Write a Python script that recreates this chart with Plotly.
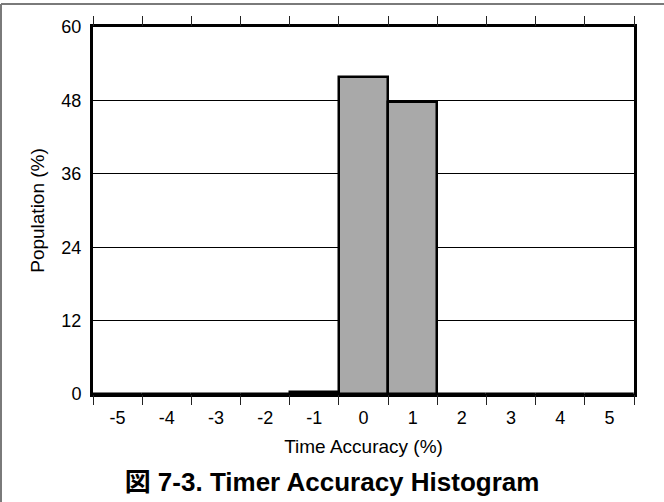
import plotly.graph_objects as go

# Histogram bins (time accuracy, %) and population share in each bin (%)
bins = [-5, -4, -3, -2, -1, 0, 1, 2, 3, 4, 5]
population = [0, 0, 0, 0, 0.4, 51.8, 47.8, 0, 0, 0, 0]
y_ticks = [0, 12, 24, 36, 48, 60]
bin_edges = [b - 0.5 for b in bins] + [bins[-1] + 0.5]

FONT = "Liberation Sans, Arial, Noto Sans CJK JP, sans-serif"
W, H = 664, 502
L, R, T, B = 93, 30, 27, 108

fig = go.Figure()
fig.add_trace(go.Bar(
    x=bins, y=population, width=1,
    marker=dict(color="#a9a9a9", line=dict(color="black", width=2.5)),
    hoverinfo="x+y",
))
# empty traces so the tick-only overlay axes are rendered
fig.add_trace(go.Scatter(x=[bin_edges[0]], y=[0], xaxis="x2", mode="markers",
                         marker=dict(opacity=0), showlegend=False, hoverinfo="skip"))
fig.add_trace(go.Scatter(x=[bin_edges[0]], y=[0], xaxis="x3", mode="markers",
                         marker=dict(opacity=0), showlegend=False, hoverinfo="skip"))

xr = [bin_edges[0], bin_edges[-1]]
fig.update_layout(
    width=W, height=H,
    margin=dict(l=L, r=R, t=T, b=B, autoexpand=False),
    paper_bgcolor="white", plot_bgcolor="white",
    showlegend=False, bargap=0,
    font=dict(family=FONT, color="black", size=17),
    title=dict(text="<b>図 7-3. Timer Accuracy Histogram</b>",
               x=0.5, xref="container", xanchor="center",
               y=1 - 482 / H, yref="container", yanchor="middle",
               font=dict(family=FONT, size=26, color="black")),
    xaxis=dict(
        range=xr, tickvals=bins, ticktext=[str(b) for b in bins],
        ticks="outside", ticklen=5, tickcolor="rgba(0,0,0,0)",
        showgrid=False, zeroline=False,
        showline=True, linecolor="black", linewidth=3, mirror=True,
        title=dict(text="Time Accuracy (%)", font=dict(size=19), standoff=14),
        tickfont=dict(size=18),
    ),
    xaxis2=dict(
        range=xr, overlaying="x", side="bottom", anchor="y",
        tickvals=bin_edges, ticks="outside", ticklen=10, tickwidth=1,
        tickcolor="#222", showticklabels=False, showgrid=False,
        zeroline=False, showline=False,
    ),
    xaxis3=dict(
        range=xr, overlaying="x", side="top", anchor="y",
        tickvals=bin_edges, ticks="outside", ticklen=10, tickwidth=1,
        tickcolor="#222", showticklabels=False, showgrid=False,
        zeroline=False, showline=False,
    ),
    yaxis=dict(
        range=[0, 60], tickvals=y_ticks, ticks="",
        showgrid=True, gridcolor="black", gridwidth=1,
        zeroline=False,
        showline=True, linecolor="black", linewidth=3, mirror=True,
        ticklabelstandoff=5,
        title=dict(text="Population (%)", font=dict(size=19), standoff=12),
        tickfont=dict(size=18),
    ),
)

# partial frame around the figure (top and left edges)
pw, ph = W - L - R, H - T - B
x_left = (1 - L) / pw
x_right = (W - L) / pw
y_top = (H - B - 4) / ph
y_bottom = (H - B - H) / ph
fig.add_shape(type="line", xref="paper", yref="paper",
              x0=x_left, x1=x_right, y0=y_top, y1=y_top,
              line=dict(color="#7a7a7a", width=2), layer="above")
fig.add_shape(type="line", xref="paper", yref="paper",
              x0=x_left, x1=x_left, y0=y_top, y1=y_bottom,
              line=dict(color="#7a7a7a", width=2), layer="above")

fig.write_html("out.html")
